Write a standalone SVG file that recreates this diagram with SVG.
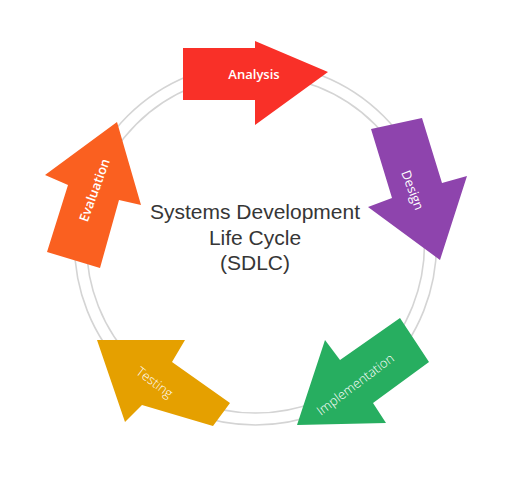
<svg xmlns="http://www.w3.org/2000/svg" width="511" height="488" viewBox="0 0 511 488">
<style>
.ring{fill:none;stroke:#d4d4d4;stroke-width:1.6}
.lbl{fill:#ffffff;font-family:"Open Sans","DejaVu Sans",sans-serif;font-size:13px;text-anchor:middle;dominant-baseline:central}
.bold{font-weight:600}
.light{font-weight:300}
.title{fill:#363636;font-family:"Liberation Sans",Arial,sans-serif;font-size:21px;text-anchor:middle}
</style>
<rect width="511" height="488" fill="#ffffff"/>
<g id="connectors">
<circle class="ring" cx="255.5" cy="244" r="181"/>
<circle class="ring" cx="255.5" cy="244" r="169"/>
</g>
<g id="analysis">
<polygon fill="#F93028" points="183,48 255,48 255,41 328,72 255,125 255,100 183,100"/>
<text class="lbl bold" x="254" y="74">Analysis</text>
</g>
<g id="design">
<polygon fill="#8E44AD" points="371,129 422,118 442,183 467,176 440,260 368,207 392,198"/>
<text class="lbl" font-size="13.5" transform="translate(413,190) rotate(69)">Design</text>
</g>
<g id="implementation">
<polygon fill="#27AE60" points="297,425 325,340 340,360 400,318 429,362 373,403 386,423"/>
<text class="lbl light" font-size="15" transform="translate(355,384) rotate(-37)">Implementation</text>
</g>
<g id="testing">
<polygon fill="#E5A000" points="97,340 185,340 172,362 230,403 213,426 142,405 125,422"/>
<text class="lbl light" font-size="15.5" transform="translate(155,382) rotate(37)">Testing</text>
</g>
<g id="evaluation">
<polygon fill="#FA6020" points="117,122 141,205 119,200 100,268 47,252 68,185 45,175"/>
<text class="lbl bold" font-size="13.5" transform="translate(94,190) rotate(-70)">Evaluation</text>
</g>
<g id="title">
<text class="title" x="255" y="219">Systems Development</text>
<text class="title" x="255" y="245">Life Cycle</text>
<text class="title" x="255" y="270">(SDLC)</text>
</g>
</svg>
